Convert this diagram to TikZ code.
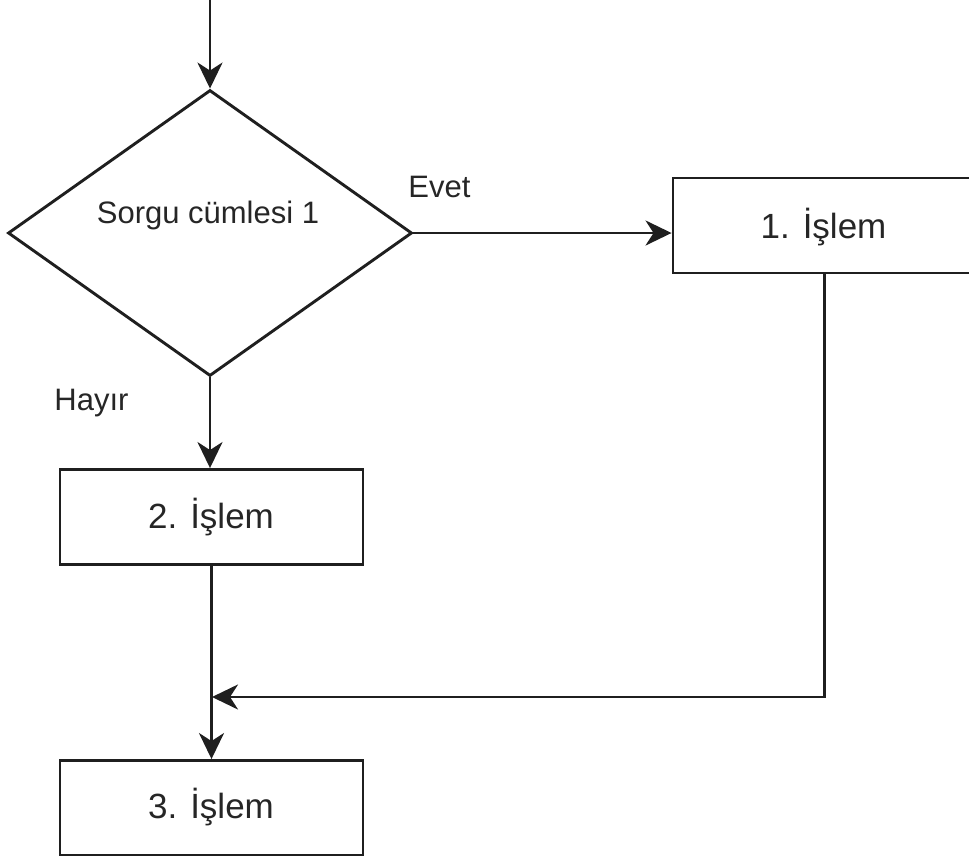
\documentclass[tikz,border=0pt]{standalone}
\usepackage{fontspec}
\setmainfont{Liberation Sans}
\usetikzlibrary{shapes.geometric,arrows.meta,calc}
\begin{document}
\begin{tikzpicture}[x=1pt,y=-1pt,
  ink/.style={draw=black!88, line width=2.9pt},
  procbox/.style={ink, rectangle, minimum width=303pt, minimum height=95pt,
    inner sep=0pt},
  decision/.style={ink, diamond, minimum width=404pt, minimum height=286pt,
    inner sep=0pt},
  lbl/.style={anchor=base, inner sep=0pt, font=\fontsize{31}{36}\selectfont, text=black!85},
  boxlbl/.style={lbl, font=\fontsize{35}{40}\selectfont},
  flow/.style={ink, -{Stealth[length=26pt, width=25pt, inset=8pt]}}]
  \useasboundingbox (0,0) rectangle (969,855);
  \clip (0,0) rectangle (969,855);

  % decision and process blocks
  \node[decision] (q) at (210,233) {};
  \node[lbl] (qtext) at (208,223) {Sorgu cümlesi 1};
  \node[procbox] (p1) at (824.5,225.5) {};
  \node[boxlbl] (p1text) at (823.5,238) {1. İşlem};
  \node[procbox] (p2) at (211.5,517) {};
  \node[boxlbl] (p2text) at (211,528) {2. İşlem};
  \node[procbox] (p3) at (211.5,808) {};
  \node[boxlbl] (p3text) at (211,818) {3. İşlem};

  % branch labels
  \node[lbl] (yes) at (439.5,197) {Evet};
  \node[lbl] (no) at (91.5,410) {Hayır};

  % connectors
  \coordinate (start) at (210,0);
  \coordinate (merge) at (212,697);
  \draw[flow] (start) -- (q.north);
  \draw[flow] (q.east) -- (q.east -| p1.west);
  \draw[flow] (q.south) -- (q.south |- p2.north);
  \draw[flow] (p2.south) -- (p3.north);
  \draw[flow] (p1.south) |- (merge);
\end{tikzpicture}
\end{document}
